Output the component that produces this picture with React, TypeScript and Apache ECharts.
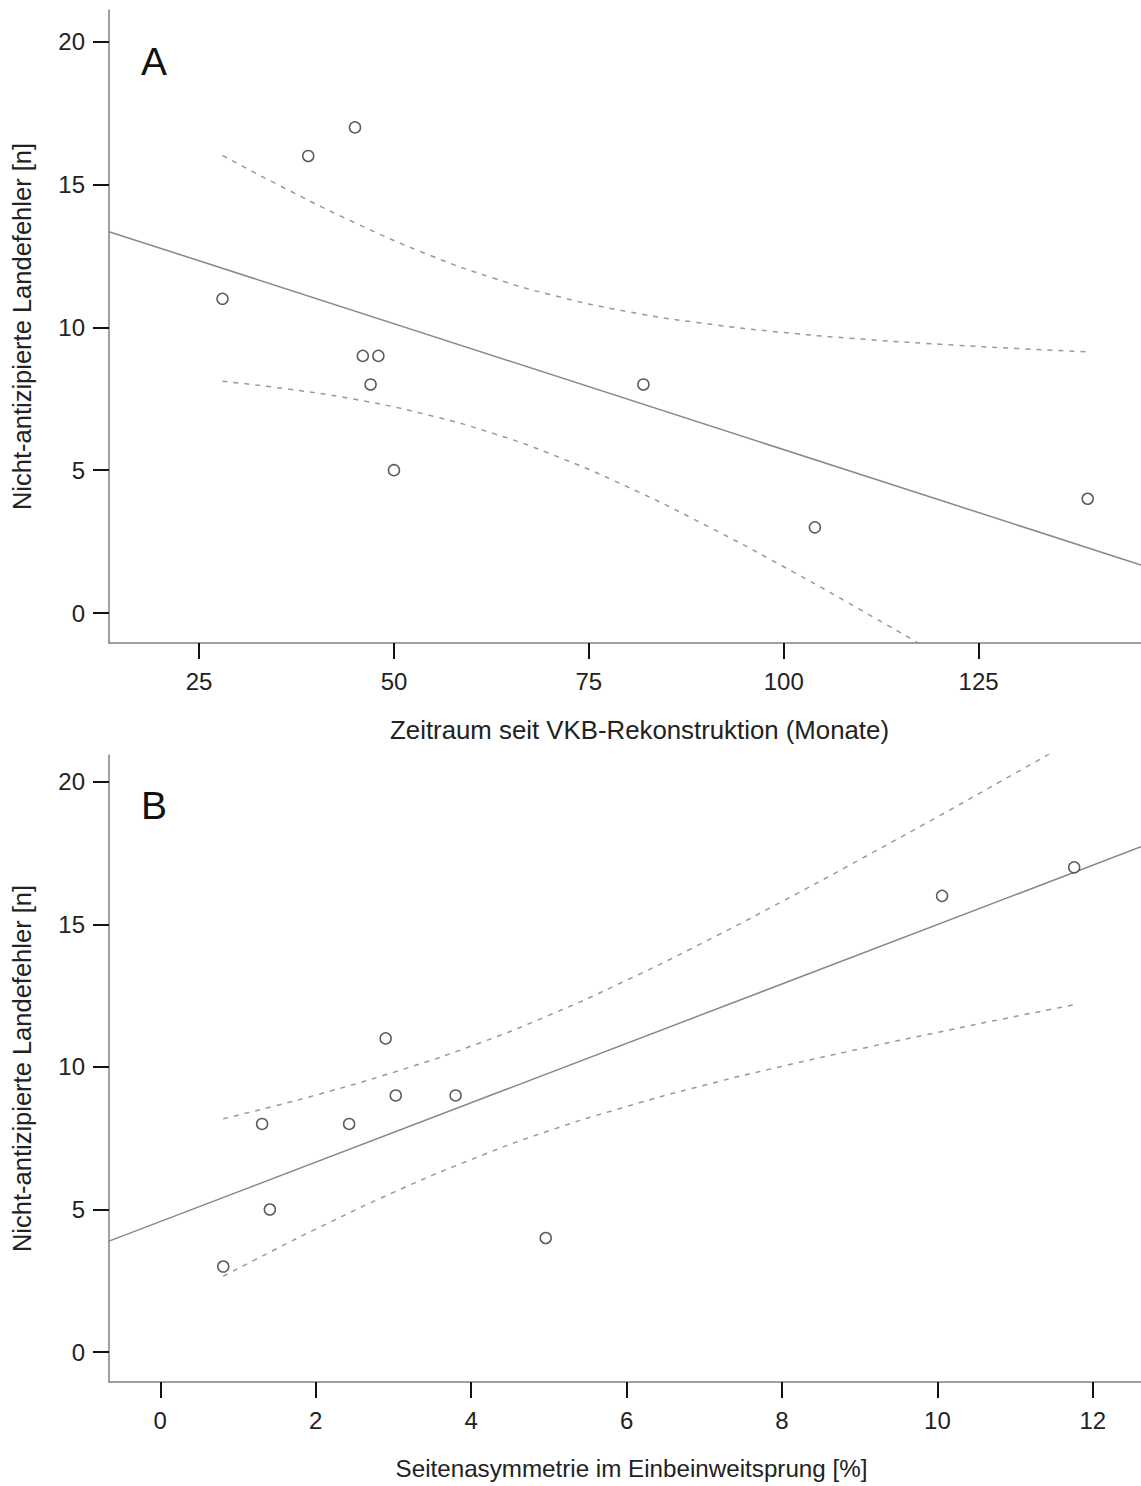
import React, { useEffect, useRef } from "react";
import * as echarts from "echarts";

// Panel A data
const aX = [28, 39, 45, 46, 48, 47, 50, 82, 104, 139];
const aY = [11, 16, 17, 9, 9, 8, 5, 8, 3, 4];
const aFitX = [13.44, 145.84];
const aFitY = [13.35, 1.68];
const aCiX = [28, 35, 45, 55, 62.8, 70, 80, 90, 100, 110, 120, 130, 139];
const aCiUpper = [16.02, 15.01, 13.66, 12.48, 11.72, 11.15, 10.55, 10.13, 9.82, 9.59, 9.41, 9.26, 9.14];
const aCiLower = [8.11, 7.89, 7.48, 6.89, 6.28, 5.58, 4.41, 3.07, 1.62, 0.09, -1.49, -3.1, -4.57];
const aTicks = [25, 50, 75, 100, 125];

// Panel B data
const bX = [0.81, 1.31, 1.41, 2.43, 2.9, 3.03, 3.8, 4.96, 10.06, 11.76];
const bY = [3, 8, 5, 8, 11, 9, 9, 4, 16, 17];
const bFitX = [-0.66, 12.62];
const bFitY = [3.89, 17.72];
const bCiX = [0.81, 1.5, 2, 3, 4, 5, 6, 7, 8, 9, 10, 11, 11.76];
const bCiUpper = [8.18, 8.65, 9.01, 9.81, 10.73, 11.81, 13.04, 14.38, 15.8, 17.27, 18.77, 20.3, 21.47];
const bCiLower = [2.66, 3.63, 4.31, 5.6, 6.75, 7.76, 8.61, 9.36, 10.02, 10.63, 11.21, 11.77, 12.18];
const bTicks = [0, 2, 4, 6, 8, 10, 12];

const yTicks = [0, 5, 10, 15, 20];

const yName = "Nicht-antizipierte Landefehler [n]";
const aXName = "Zeitraum seit VKB-Rekonstruktion (Monate)";
const bXName = "Seitenasymmetrie im Einbeinweitsprung [%]";

const FONT = "'Liberation Sans', Arial, sans-serif";

const zip = (xs: number[], ys: number[]) => xs.map((x, i) => [x, ys[i]]);

function xAxisCfg(gridIndex: number, min: number, max: number, ticks: number[], name: string, nameSize: number, padLeft: number) {
  return {
    type: "value",
    gridIndex,
    min,
    max,
    name,
    nameLocation: "middle",
    nameGap: 74,
    nameTextStyle: { fontFamily: FONT, fontSize: nameSize, color: "#222", padding: [0, 0, 0, padLeft] },
    axisLine: { show: true, onZero: false, lineStyle: { color: "#808080", width: 1.5 } },
    axisTick: { show: true, length: 16, customValues: ticks, lineStyle: { color: "#111", width: 2 } },
    axisLabel: { customValues: ticks, margin: 26, fontFamily: FONT, fontSize: 24, color: "#222" },
    splitLine: { show: false },
  };
}

function yAxisCfg(gridIndex: number, min: number, max: number) {
  return {
    type: "value",
    gridIndex,
    min,
    max,
    name: yName,
    nameLocation: "middle",
    nameGap: 74,
    nameTextStyle: { fontFamily: FONT, fontSize: 25.5, color: "#222" },
    axisLine: { show: true, onZero: false, lineStyle: { color: "#808080", width: 1.5 } },
    axisTick: { show: true, length: 16, customValues: yTicks, lineStyle: { color: "#111", width: 2 } },
    axisLabel: { customValues: yTicks, margin: 24, fontFamily: FONT, fontSize: 24, color: "#222" },
    splitLine: { show: false },
  };
}

function panelSeries(idx: number, xs: number[], ys: number[], fx: number[], fy: number[], cx: number[], cu: number[], cl: number[]) {
  const base = { xAxisIndex: idx, yAxisIndex: idx };
  const dashStyle = { color: "#999", width: 1.5, type: [5, 6] };
  return [
    { ...base, type: "line", data: zip(fx, fy), showSymbol: false, symbol: "none", lineStyle: { color: "#888", width: 1.5 }, clip: true, z: 2 },
    { ...base, type: "line", data: zip(cx, cu), showSymbol: false, symbol: "none", smooth: true, lineStyle: dashStyle, clip: true, z: 2 },
    { ...base, type: "line", data: zip(cx, cl), showSymbol: false, symbol: "none", smooth: true, lineStyle: dashStyle, clip: true, z: 2 },
    {
      ...base,
      type: "scatter",
      data: zip(xs, ys),
      symbol: "circle",
      symbolSize: 11,
      itemStyle: { color: "#fff", borderColor: "#333", borderWidth: 1.5 },
      z: 5,
    },
  ];
}

export default function App() {
  const ref = useRef<HTMLDivElement>(null);
  useEffect(() => {
    document.body.style.margin = "0";
    if (!ref.current) return;
    const chart = echarts.init(ref.current, undefined, { renderer: "svg" });
    chart.setOption({
      animation: false,
      backgroundColor: "#fff",
      grid: [
        { left: 109, top: 10, width: 1032, height: 633 },
        { left: 109, top: 755, width: 1032, height: 627 },
      ],
      xAxis: [
        xAxisCfg(0, 13.44, 145.84, aTicks, aXName, 25.8, 29),
        xAxisCfg(1, -0.66, 12.62, bTicks, bXName, 24.2, 13),
      ],
      yAxis: [yAxisCfg(0, -1.05, 21.11), yAxisCfg(1, -1.05, 20.94)],
      graphic: [
        { type: "text", left: 141, top: 42, style: { text: "A", font: `39px ${FONT}`, fill: "#111" } },
        { type: "text", left: 141, top: 786, style: { text: "B", font: `39px ${FONT}`, fill: "#111" } },
      ],
      series: [
        ...panelSeries(0, aX, aY, aFitX, aFitY, aCiX, aCiUpper, aCiLower),
        ...panelSeries(1, bX, bY, bFitX, bFitY, bCiX, bCiUpper, bCiLower),
      ],
    });
    return () => chart.dispose();
  }, []);
  return <div ref={ref} style={{ width: 1141, height: 1486 }} />;
}
